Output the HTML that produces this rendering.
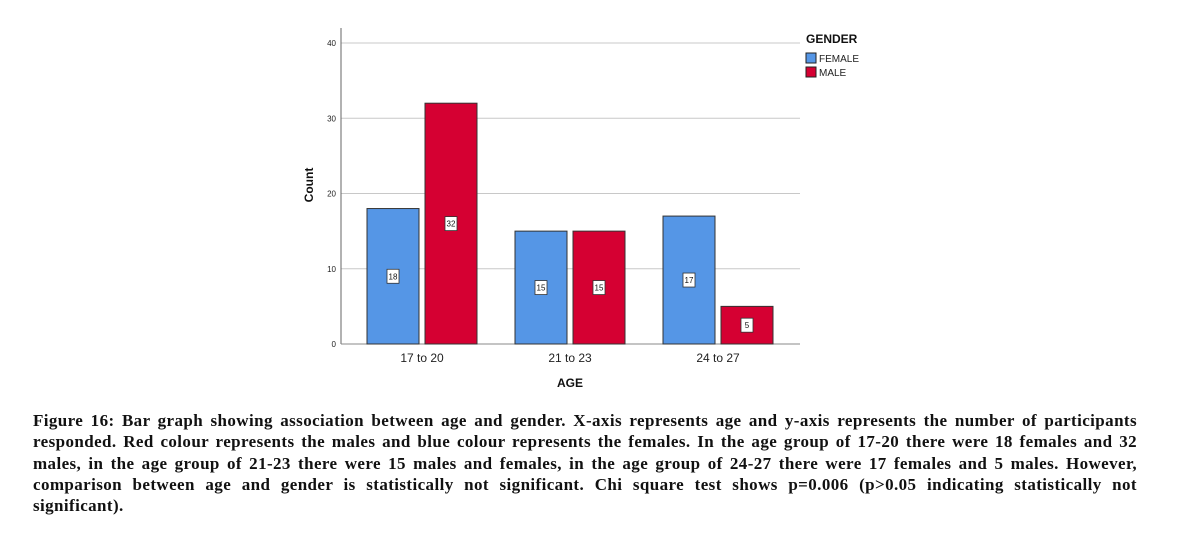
<!DOCTYPE html>
<html><head><meta charset="utf-8"><style>
html,body{margin:0;padding:0;background:#fff;width:1183px;height:533px;overflow:hidden}
svg text{font-family:"Liberation Sans",sans-serif}
#cap{position:absolute;left:33px;top:410px;width:1104px;font:bold 17px/21.3px "Liberation Serif",serif;letter-spacing:0.4px;color:#111}
#cap div{text-align:justify;text-align-last:justify;white-space:nowrap;overflow:visible}
#cap div.last{text-align-last:left}
</style></head><body>
<svg id="chart" width="1183" height="400" style="position:absolute;left:0;top:0"></svg>
<div id="cap">
<div>Figure 16: Bar graph showing association between age and gender. X-axis represents age and y-axis represents the number of participants</div>
<div>responded. Red colour represents the males and blue colour represents the females. In the age group of 17-20 there were 18 females and 32</div>
<div>males, in the age group of 21-23 there were 15 males and females, in the age group of 24-27 there were 17 females and 5 males. However,</div>
<div>comparison between age and gender is statistically not significant. Chi square test shows p=0.006 (p&gt;0.05 indicating statistically not</div>
<div class="last">significant).</div>
</div>
<script>
const categories=["17 to 20","21 to 23","24 to 27"];
const female=[18,15,17];
const male=[32,15,5];
const yTicks=[0,10,20,30,40];
const NS="http://www.w3.org/2000/svg";
const svg=document.getElementById('chart');
const x0=341,x1=800,yb=344,yt=43,yMax=40;
const y=v=>yb-(yb-yt)*v/yMax;
const gc=i=>422+148*i;
function mk(t,a,txt){const e=document.createElementNS(NS,t);for(const k in a)e.setAttribute(k,a[k]);if(txt!==undefined)e.textContent=txt;svg.appendChild(e);return e;}
yTicks.forEach(v=>{
 if(v>0){const g=mk('line',{x1:x0,x2:x1,y1:y(v),y2:y(v),stroke:'#c8c8c8','stroke-width':1});
 
 }
 const t=mk('text',{x:x0-5,y:y(v)+3,'font-size':8,'text-anchor':'end',fill:'#222'},v);
 
 
});
const ax=mk('line',{x1:x0,x2:x0,y1:28,y2:yb,stroke:'#666'});


const bx=mk('line',{x1:x0,x2:x1,y1:yb,y2:yb,stroke:'#888'});


function bar(cx,v,col,name){
 const r=mk('rect',{x:cx,y:y(v),width:52,height:yb-y(v),fill:col,stroke:'#333','stroke-width':1});
 
 
 const my=(y(v)+yb)/2;
 const b=mk('rect',{x:cx+20,y:my-7,width:12,height:14,fill:'#fff',stroke:'#333','stroke-width':0.8});
 
 
 const t=mk('text',{x:cx+26,y:my+3,'font-size':8,'text-anchor':'middle',fill:'#111'},v);
 
 
}
categories.forEach((c,i)=>{
 bar(gc(i)-55,female[i],'#5596e6','bar-female-'+i);
 bar(gc(i)+3,male[i],'#d50032','bar-male-'+i);
 const t=mk('text',{x:gc(i),y:362,'font-size':12,'text-anchor':'middle',fill:'#222'},c);
 
 
});
const xt=mk('text',{x:570,y:387,'font-size':12,'font-weight':'bold','text-anchor':'middle',fill:'#111'},'AGE');


const yt2=mk('text',{x:0,y:0,'font-size':12,'font-weight':'bold','text-anchor':'middle',fill:'#111',transform:'translate(313,185) rotate(-90)'},'Count');


const lg=mk('text',{x:806,y:43,'font-size':12,'font-weight':'bold',fill:'#111'},'GENDER');


[['FEMALE','#5596e6',53],['MALE','#d50032',67]].forEach(([n,c,yy])=>{
 const s=mk('rect',{x:806,y:yy,width:10,height:10,fill:c,stroke:'#222'});
 
 
 const t=mk('text',{x:819,y:yy+9,'font-size':10,fill:'#222'},n);
 
 
});
</script>
</body></html>
